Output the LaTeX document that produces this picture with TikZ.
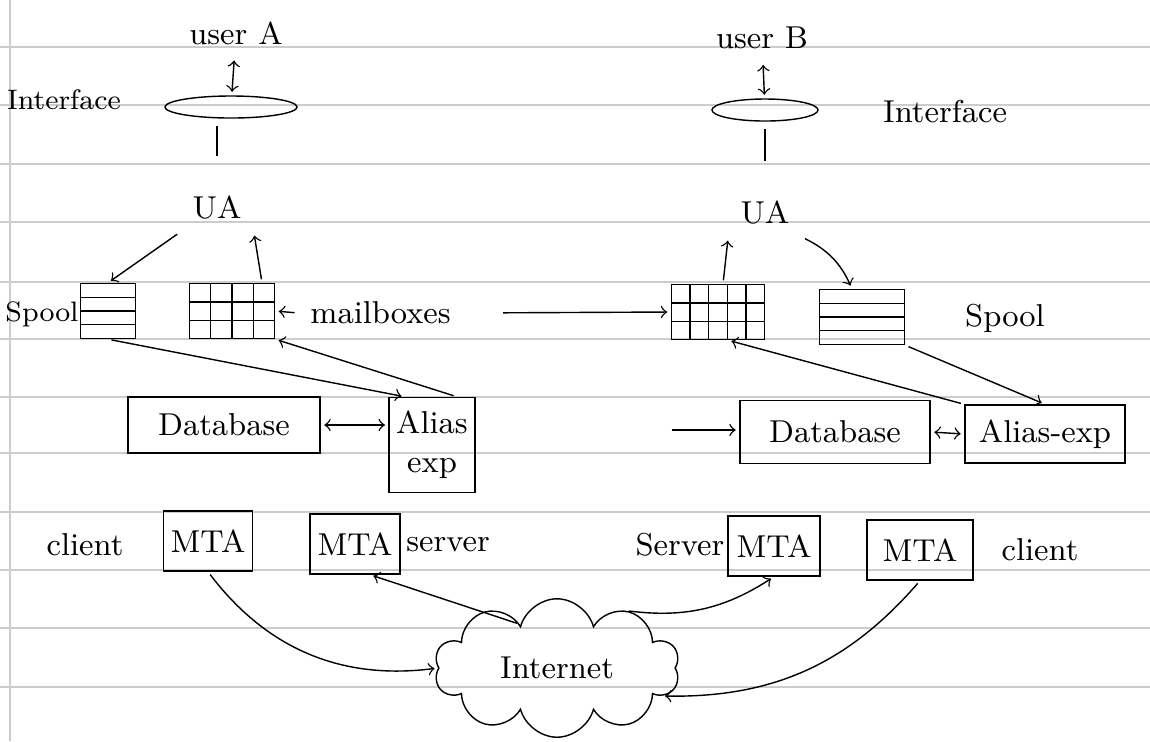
\documentclass[tikz,border=0pt]{standalone}
\usetikzlibrary{shapes.geometric,shapes.symbols,calc}

\begin{document}
\begin{tikzpicture}[x=0.01cm, y=-0.01cm,
    every node/.style={font=\small},
    ruled/.style={gray!40, line width=0.6pt},
    iface/.style={ellipse, draw, inner sep=0pt, minimum height=0.22cm},
    spool/.style={rectangle, draw, inner sep=0pt, minimum height=0.55cm,
        path picture={\foreach \f in {0.25,0.5,0.75}
            \draw ($(path picture bounding box.north west)!\f!(path picture bounding box.south west)$) --
                  ($(path picture bounding box.north east)!\f!(path picture bounding box.south east)$);}},
    mailbox/.style={rectangle, draw, inner sep=0pt, minimum height=0.55cm,
        path picture={\foreach \i in {1,...,#1}
            \draw ($(path picture bounding box.north west)!{\i/(#1+1)}!(path picture bounding box.north east)$) --
                  ($(path picture bounding box.south west)!{\i/(#1+1)}!(path picture bounding box.south east)$);
            \foreach \f in {0.333,0.667}
            \draw ($(path picture bounding box.north west)!\f!(path picture bounding box.south west)$) --
                  ($(path picture bounding box.north east)!\f!(path picture bounding box.south east)$);}},
    block/.style={rectangle, draw, inner sep=2pt, align=center},
    mta/.style={rectangle, draw, inner sep=2pt, minimum height=0.6cm},
    flow/.style={->, shorten >=1pt, shorten <=1pt},
    both/.style={<->, shorten >=1pt, shorten <=1pt}
]
\useasboundingbox (0,0) rectangle (1150,741);

% ruled paper
\foreach \y in {47,105,164,222,282,339,397,453,512,570,628,687}
    \draw[ruled] (0,\y) -- (1150,\y);
\draw[ruled] (10,0) -- (10,741);

% User A side
\node (userA) at (236,33) {user A};
\node[iface, minimum width=1.32cm] (ifA) at (231,107) {};
\node[font=\footnotesize] (ifAlbl) at (64,100) {Interface};
\draw[both] (userA) -- (ifA);
\node (uaA) at (217,208) {UA};
\draw[shorten <=2pt, shorten >=8pt] (ifA.south -| uaA.north) -- (uaA.north);

\node[spool, minimum width=0.55cm] (spoolA) at (108,311) {};
\node[font=\footnotesize] (spoolAlbl) at (42,314) {Spool};
\node[mailbox=3, minimum width=0.85cm] (mboxA) at (232,311) {};
\draw[flow] (uaA.south west) -- (spoolA.north);
\draw[flow] ([xshift=0.3cm]mboxA.north) -- (uaA.south east);

% User B side
\node (userB) at (762,38) {user B};
\node[iface, minimum width=1.06cm] (ifB) at (765,110) {};
\node (ifBlbl) at (945,112) {Interface};
\draw[both] (userB) -- (ifB);
\node (uaB) at (765,213) {UA};
\draw[shorten <=2pt, shorten >=8pt] (ifB.south) -- (uaB.north);

\node[mailbox=4, minimum width=0.93cm] (mboxB) at (718,312) {};
\node[spool, minimum width=0.85cm] (spoolB) at (862,317) {};
\node (spoolBlbl) at (1005,318) {Spool};
\draw[flow] ([xshift=0.05cm]mboxB.north) -- (uaB.south west);
\draw[flow] (uaB.south east) to[bend left=20] ([xshift=-0.1cm]spoolB.north);

% mailboxes
\node[anchor=west] (mboxlbl) at (298,313) {mailboxes};
\draw[flow] (mboxlbl.west) -- (mboxA.east);
\draw[flow, shorten <=0.4cm] (mboxlbl.east) -- (mboxB.west);

% Database / alias expansion
\node[block, minimum width=1.92cm, minimum height=0.56cm] (dbA) at (224,425) {Database};
\node[block, minimum width=0.65cm, minimum height=0.95cm] (aliasA) at (432,445) {Alias\\exp};
\draw[both] (dbA.east) -- (dbA.east -| aliasA.west);
\draw[flow] (spoolA.south) -- ([xshift=-0.27cm]aliasA.north);
\draw[flow] ([xshift=0.25cm]aliasA.north) -- (mboxA.south east);

\node[block, minimum width=1.9cm, minimum height=0.63cm] (dbB) at (835,432) {Database};
\node[block, minimum width=1.6cm, minimum height=0.58cm] (aliasB) at (1045,434) {Alias-exp};
\coordinate (feedB) at (668,430);
\draw[flow] (feedB) -- (feedB -| dbB.west);
\draw[both] (dbB.east) -- (aliasB.west);
\draw[flow] (aliasB.north west) -- ([xshift=0.1cm]mboxB.south);
\draw[flow] (spoolB.south east) -- (aliasB.north);

% MTA row
\node (cliA) at (85,545) {client};
\node[mta, minimum width=0.85cm] (mtaA) at (208,541) {MTA};
\node[mta, minimum width=0.9cm] (mtaSA) at (355,544) {MTA};
\node (srvA) at (448,545) {server};
\node (srvB) at (680,545) {Server};
\node[mta, minimum width=0.92cm] (mtaSB) at (774,546) {MTA};
\node[mta, minimum width=1.06cm] (mtaB) at (920,550) {MTA};
\node (cliB) at (1040,550) {client};

% Internet
\node[cloud, draw, cloud puffs=10, aspect=2, minimum width=2.45cm, minimum height=1.2cm] (net) at (557,668) {Internet};
\draw[flow] (mtaA.south) to[bend right=30] (net.west);
\draw[flow] (net.130) -- ([xshift=0.15cm]mtaSA.south);
\draw[flow] (net.40) to[bend right=20] (mtaSB.south);
\draw[flow] (mtaB.south) to[bend left=25] (net.-15);

\end{tikzpicture}
\end{document}
